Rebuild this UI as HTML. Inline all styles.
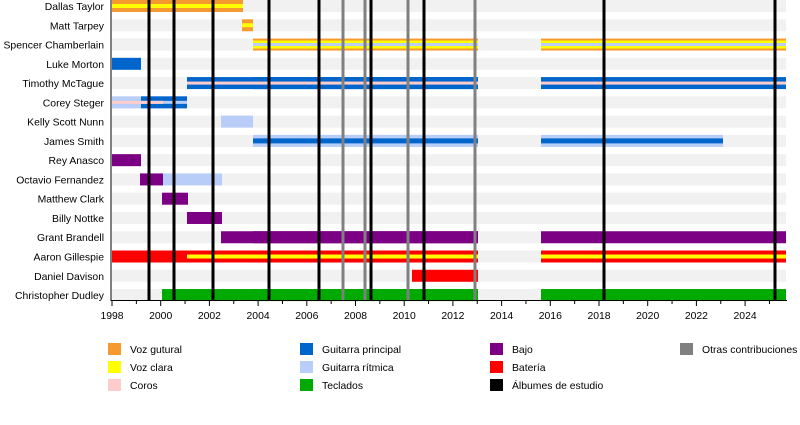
<!DOCTYPE html>
<html><head><meta charset="utf-8"><style>
body{margin:0;background:#fff}
text{font-family:"Liberation Sans",sans-serif;font-size:10.4px;fill:#000}
</style></head><body>
<svg width="800" height="420" xmlns="http://www.w3.org/2000/svg">
<g id="bg" fill="#f1f1f1"></g>
<g id="bars"></g>
<g id="lines"></g>
<g id="labels"></g>
<line x1="111" y1="0" x2="111" y2="301" stroke="#000" stroke-width="1"/>
<line x1="111" y1="300.5" x2="787" y2="300.5" stroke="#000" stroke-width="1"/>
<g id="ticks"></g>
<g id="legend"></g>
<script>
var ns="http://www.w3.org/2000/svg";
function el(p,t,a,txt){var e=document.createElementNS(ns,t);for(var k in a)e.setAttribute(k,a[k]);if(txt)e.textContent=txt;document.getElementById(p).appendChild(e);return e;}
function X(y){return 112+(y-1998)*24.35;}
var names=["Dallas Taylor","Matt Tarpey","Spencer Chamberlain","Luke Morton","Timothy McTague","Corey Steger","Kelly Scott Nunn","James Smith","Rey Anasco","Octavio Fernandez","Matthew Clark","Billy Nottke","Grant Brandell","Aaron Gillespie","Daniel Davison","Christopher Dudley"];
function cy(i){return 6+i*19.27;}
for(var i=0;i<16;i++){el("bg","rect",{x:112,y:cy(i)-6,width:674,height:12});
el("labels","text",{x:104,y:cy(i)+4,"text-anchor":"end"},names[i]);}
var O="#f59a2f",Y="#ffff00",B="#0066cc",L="#b8cdf8",P="#7b0083",R="#ff0000",G="#00aa00",K="#ffcccc";
function bar(i,x1,x2,c,h){h=h||12;el("bars","rect",{x:x1,y:cy(i)-h/2,width:x2-x1,height:h,fill:c});}
bar(0,112,243,O);bar(0,112,243,Y,4);
bar(1,242,253,O);bar(1,242,253,Y,4);
[[253,478],[541,786]].forEach(function(s){bar(2,s[0],s[1],O);bar(2,s[0],s[1],Y,8);bar(2,s[0],s[1],L,3);
bar(4,s[0],s[1],B);bar(4,s[0],s[1],K,3);
bar(12,s[0],s[1],P);bar(13,s[0],s[1],R);bar(13,s[0],s[1],Y,4);bar(15,s[0],s[1],G);});
bar(3,112,141,B);
bar(4,187,478,B);bar(4,187,478,K,3);
bar(5,112,187,L);bar(5,141,187,B);bar(5,141,187,L,3);bar(5,112,163,K,3);
bar(6,221,253,L);
bar(7,253,478,L);bar(7,253,478,B,5);bar(7,541,723,L);bar(7,541,723,B,5);
bar(8,112,141,P);bar(9,140,163,P);bar(9,163,222,L);bar(10,162,188,P);bar(11,187,222,P);
bar(12,221,478,P);
bar(13,112,412,R);bar(13,187,412,Y,4);
bar(14,412,478,R);bar(15,162,478,G);
[343,365,408,475].forEach(function(x){el("lines","rect",{x:x-1.5,y:0,width:3,height:300,fill:"#808080"});});
[149,174,213,269,319,371,424,604,775].forEach(function(x){el("lines","rect",{x:x-1.5,y:0,width:3,height:300,fill:"#000"});});
for(var y=1998;y<=2025;y++){var x=X(y);el("ticks","line",{x1:x,y1:300,x2:x,y2:y%2==0?306:304,stroke:"#000","stroke-width":1});
if(y%2==0)el("ticks","text",{x:x,y:319,"text-anchor":"middle"},""+y);}
var leg=[[108,"Voz gutural",O,0],[108,"Voz clara",Y,1],[108,"Coros",K,2],[300,"Guitarra principal",B,0],[300,"Guitarra rítmica",L,1],[300,"Teclados",G,2],[490,"Bajo",P,0],[490,"Batería",R,1],[490,"Álbumes de estudio","#000",2],[680,"Otras contribuciones","#808080",0]];
leg.forEach(function(l){var y=343+l[3]*18;el("legend","rect",{x:l[0],y:y,width:13,height:12,fill:l[2]});el("legend","text",{x:l[0]+22,y:y+10},l[1]);});
</script>
</svg>
</body></html>
